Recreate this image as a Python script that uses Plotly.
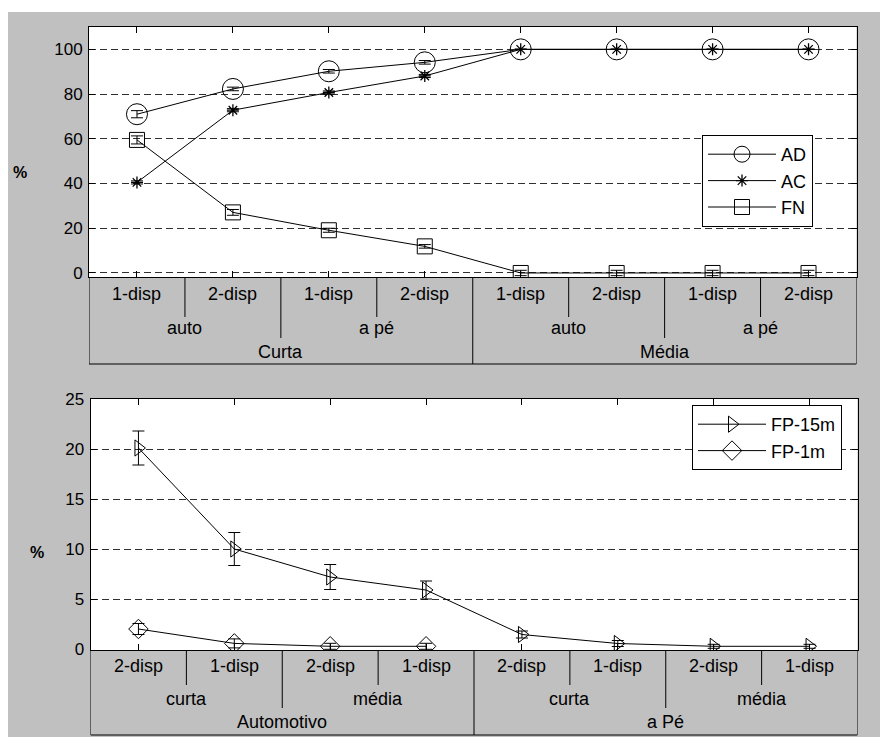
import plotly.graph_objects as go

# ---------------- data ----------------
top_x = [1, 2, 3, 4, 5, 6, 7, 8]
top_lvl1 = ["1-disp", "2-disp", "1-disp", "2-disp", "1-disp", "2-disp", "1-disp", "2-disp"]
top_lvl2 = ["auto", "a pé", "auto", "a pé"]
top_lvl3 = ["Curta", "Média"]

AD = [71.0, 82.3, 90.2, 94.2, 100, 100, 100, 100]
AD_err = [1.6, 0.8, 0.8, 0.8, 0, 0, 0, 0]
AC = [40.5, 72.8, 80.7, 88.1, 100, 100, 100, 100]
AC_err = [0.7, 0.7, 0.7, 0.7, 0, 0, 0, 0]
FN = [59.5, 27.1, 19.1, 11.9, 0, 0, 0, 0]
FN_err = [1.8, 1.3, 0.9, 0.8, 1.2, 1.2, 1.2, 1.2]

bot_x = [1, 2, 3, 4, 5, 6, 7, 8]
bot_lvl1 = ["2-disp", "1-disp", "2-disp", "1-disp", "2-disp", "1-disp", "2-disp", "1-disp"]
bot_lvl2 = ["curta", "média", "curta", "média"]
bot_lvl3 = ["Automotivo", "a Pé"]

FP15 = [20.1, 10.0, 7.2, 5.9, 1.45, 0.55, 0.27, 0.27]
FP15_err = [1.7, 1.65, 1.25, 0.9, 0.35, 0.3, 0.2, 0.2]
FP1 = [2.0, 0.56, 0.27, 0.27, None, None, None, None]
FP1_err = [0.55, 0.45, 0.3, 0.3, 0, 0, 0, 0]

# ---------------- style ----------------
W, H = 880, 737
FONT = "Liberation Sans, Arial, sans-serif"
GRAY = "#c0c0c0"

def px_x(p):
    return p / W

def px_y(p):
    return 1 - p / H

fig = go.Figure()

def err(arr):
    return dict(type="data", array=arr, visible=True, color="black", thickness=1, width=6)

line = dict(color="black", width=1)

fig.add_trace(go.Scatter(x=top_x, y=AD, name="AD", mode="lines+markers", line=line,
                         marker=dict(symbol="circle-open", size=21, color="black", line=dict(width=1)),
                         error_y=err(AD_err), xaxis="x", yaxis="y", legend="legend"))
fig.add_trace(go.Scatter(x=top_x, y=AC, name="AC", mode="lines+markers", line=line,
                         marker=dict(symbol="asterisk-open", size=10, color="black", line=dict(width=1.3, color="black")),
                         error_y=err(AC_err), xaxis="x", yaxis="y", legend="legend"))
fig.add_trace(go.Scatter(x=top_x, y=FN, name="FN", mode="lines+markers", line=line,
                         marker=dict(symbol="square-open", size=15, color="black", line=dict(width=1)),
                         error_y=err(FN_err), xaxis="x", yaxis="y", legend="legend"))

fig.add_trace(go.Scatter(x=bot_x, y=FP15, name="FP-15m", mode="lines+markers", line=line,
                         marker=dict(symbol="triangle-right-open", size=14, color="black", line=dict(width=1)),
                         error_y=err(FP15_err), xaxis="x2", yaxis="y2", legend="legend2"))
fig.add_trace(go.Scatter(x=bot_x, y=FP1, name="FP-1m", mode="lines+markers", line=line,
                         marker=dict(symbol="diamond-open", size=15, color="black", line=dict(width=1)),
                         error_y=err(FP1_err), xaxis="x2", yaxis="y2", legend="legend2"))

# domains (pixels -> paper)
top_x0, top_x1, top_y0, top_y1 = 89, 856.5, 27, 277
bot_x0, bot_x1, bot_y0, bot_y1 = 90.5, 857.5, 399, 650

axis_common = dict(showline=True, linecolor="black", linewidth=1, mirror="ticks",
                   ticks="inside", ticklen=6, tickcolor="black", zeroline=False, automargin=False)
xcommon = dict(axis_common, range=[0.5, 8.5], tickmode="array", tickvals=top_x,
               showticklabels=False, showgrid=False)
ycommon = dict(axis_common, showgrid=True, gridcolor="#303030", gridwidth=1, griddash="7px,4px",
               tickfont=dict(family=FONT, size=17, color="black"), ticklabelstandoff=2)

fig.update_layout(
    width=W, height=H, autosize=False,
    margin=dict(l=0, r=0, t=0, b=0, pad=0, autoexpand=False),
    paper_bgcolor=GRAY, plot_bgcolor="white",
    font=dict(family=FONT, color="black"),
    xaxis=dict(xcommon, domain=[px_x(top_x0), px_x(top_x1)], anchor="y"),
    yaxis=dict(ycommon, domain=[px_y(top_y1), px_y(top_y0)], anchor="x",
               range=[-1.8, 110], tickvals=[0, 20, 40, 60, 80, 100]),
    xaxis2=dict(xcommon, domain=[px_x(bot_x0), px_x(bot_x1)], anchor="y2"),
    yaxis2=dict(ycommon, domain=[px_y(bot_y1), px_y(bot_y0)], anchor="x2",
                range=[-0.1, 25], tickvals=[0, 5, 10, 15, 20, 25]),
    legend=dict(x=px_x(813), y=px_y(135), xanchor="right", yanchor="top",
                bgcolor="white", bordercolor="black", borderwidth=1,
                font=dict(family=FONT, size=18, color="black"), itemwidth=68,
                tracegroupgap=0),
    legend2=dict(x=px_x(842), y=px_y(405), xanchor="right", yanchor="top",
                 bgcolor="white", bordercolor="black", borderwidth=1,
                 font=dict(family=FONT, size=18, color="black"), itemwidth=68,
                 tracegroupgap=0),
    showlegend=True,
)

shapes = []
annotations = []

# white strips outside the gray figure area
shapes.append(dict(type="rect", xref="paper", yref="paper", x0=0, x1=1, y0=px_y(12), y1=1,
                   fillcolor="white", line=dict(width=0), layer="above"))
shapes.append(dict(type="rect", xref="paper", yref="paper", x0=0, x1=px_x(8), y0=0, y1=1,
                   fillcolor="white", line=dict(width=0), layer="above"))

def category_box(xref, lvl1, lvl2, lvl3, ytop, y_short, y_mid, ybot, r1, r2, r3):
    blk = dict(color="black", width=1)
    n = len(lvl1)
    shapes.append(dict(type="line", xref=xref, yref="paper", x0=0.5, x1=0.5,
                       y0=px_y(ytop), y1=px_y(ybot), line=blk))
    shapes.append(dict(type="line", xref=xref, yref="paper", x0=n + 0.5, x1=n + 0.5,
                       y0=px_y(ytop), y1=px_y(ybot), line=blk))
    shapes.append(dict(type="line", xref=xref, yref="paper", x0=0.5, x1=n + 0.5,
                       y0=px_y(ybot), y1=px_y(ybot), line=blk))
    for k in range(1, n):
        xs = k + 0.5
        if k % 4 == 0:
            yend = ybot
        elif k % 2 == 0:
            yend = y_mid
        else:
            yend = y_short
        shapes.append(dict(type="line", xref=xref, yref="paper", x0=xs, x1=xs,
                           y0=px_y(ytop), y1=px_y(yend), line=blk))
    f = dict(family=FONT, size=18, color="black")
    for i, t in enumerate(lvl1):
        annotations.append(dict(xref=xref, yref="paper", x=i + 1, y=px_y(r1), text=t,
                                showarrow=False, font=f, xanchor="center", yanchor="middle"))
    for i, t in enumerate(lvl2):
        annotations.append(dict(xref=xref, yref="paper", x=2 * i + 1.5, y=px_y(r2), text=t,
                                showarrow=False, font=f, xanchor="center", yanchor="middle"))
    for i, t in enumerate(lvl3):
        annotations.append(dict(xref=xref, yref="paper", x=4 * i + 2.5, y=px_y(r3), text=t,
                                showarrow=False, font=f, xanchor="center", yanchor="middle"))

category_box("x", top_lvl1, top_lvl2, top_lvl3, 277, 317, 338, 364, 294, 328, 352)
category_box("x2", bot_lvl1, bot_lvl2, bot_lvl3, 650, 685, 708, 735, 666, 699, 722)

annotations.append(dict(xref="paper", yref="paper", x=px_x(20), y=px_y(173), text="<b>%</b>",
                        showarrow=False, font=dict(family=FONT, size=16, color="black"),
                        xanchor="center", yanchor="middle"))
annotations.append(dict(xref="paper", yref="paper", x=px_x(37), y=px_y(552), text="<b>%</b>",
                        showarrow=False, font=dict(family=FONT, size=16, color="black"),
                        xanchor="center", yanchor="middle"))

fig.update_layout(shapes=shapes, annotations=annotations)

fig.write_html("out.html", config={"displayModeBar": False},
               post_script="document.body.style.margin='0';document.body.style.overflow='hidden';")
